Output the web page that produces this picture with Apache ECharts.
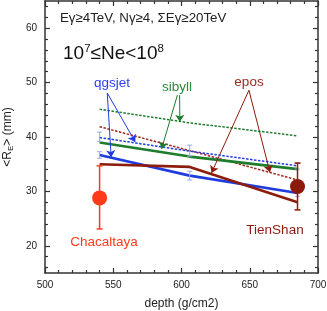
<!DOCTYPE html>
<html><head><meta charset="utf-8">
<script src="https://cdn.jsdelivr.net/npm/echarts@6/dist/echarts.min.js"></script>
<style>html,body{margin:0;padding:0;background:#fff}#c{width:327px;height:311px}</style>
</head><body><div id="c"></div>
<script>
// ---- data ----
const depths = [540, 606, 685];
const qgsjetSolid  = [36.7, 32.9, 29.7];
const qgsjetDotted = [39.9, 37.4, 34.7];
const sibyllSolid  = [39.0, 36.4, 34.1];
const sibyllDotted = [45.1, 42.6, 40.2];
const eposSolid    = [35.0, 34.5, 28.0];
const eposDotted   = [41.9, 37.5, 32.1];
const qgsjetSolidLow   = [36.1, 32.1, 29.1];
const qgsjetSolidHigh  = [37.3, 33.7, 30.3];
const qgsjetDottedLow  = [39.2, 36.5, 34.1];
const qgsjetDottedHigh = [40.9, 38.5, 35.3];
const expNames = ['Chacaltaya', 'TienShan'];
const expDepth = [540, 685];
const expValue = [28.8, 30.9];
const expLow   = [23.1, 26.6];
const expHigh  = [34.7, 35.2];
const yTicks = [20, 30, 40, 50, 60];
const yMinorTicks = [16, 18, 22, 24, 26, 28, 32, 34, 36, 38, 42, 44, 46, 48, 52, 54, 56, 58, 62, 64];
// arrows (annotation, data coordinates)
const qgsjetArrows = [[[545.6, 48.1], [548.5, 36.3]], [[545.6, 48.1], [566.1, 39.1]]];
const sibyllArrows = [[[598.6, 47.7], [598.8, 42.8]], [[597.0, 47.7], [585.4, 37.8]]];
const eposArrows   = [[[649.4, 48.6], [622.0, 33.4]], [[649.4, 48.6], [664.8, 33.5]]];

const FONT = 'Liberation Sans, Arial, Helvetica, sans-serif';
const C_BLUE = '#1f3ddf', C_GREEN = '#1e7d2c', C_EPOS = '#8c1c0c', C_EPOSD = '#a0281a';
const C_CHA = '#ff3a1a', C_TS = '#8b1a0a', C_ERR = '#9aa6f0';

const pairs = (xs, ys) => xs.map((x, i) => [x, ys[i]]);
const errs = (xs, lo, hi) => xs.map((x, i) => [x, lo[i], hi[i]]);

function errRender(capHalf, lw) {
  return function (params, api) {
    const x = api.value(0), lo = api.value(1), hi = api.value(2);
    const p1 = api.coord([x, lo]), p2 = api.coord([x, hi]);
    const color = api.visual('color');
    const st = { stroke: color, lineWidth: lw };
    return { type: 'group', children: [
      { type: 'line', shape: { x1: p1[0], y1: p1[1], x2: p2[0], y2: p2[1] }, style: st },
      { type: 'line', shape: { x1: p1[0] - capHalf, y1: p1[1], x2: p1[0] + capHalf, y2: p1[1] }, style: st },
      { type: 'line', shape: { x1: p2[0] - capHalf, y1: p2[1], x2: p2[0] + capHalf, y2: p2[1] }, style: st }
    ]};
  };
}

const axisLine = { show: true, lineStyle: { color: '#333', width: 1.5 } };
function xAx(pos, labels) {
  return {
    type: 'value', position: pos, min: 500, max: 700, interval: 50,
    axisLine, splitLine: { show: false },
    axisTick: { show: true, inside: true, length: 5, lineStyle: { color: '#333', width: 1.2 } },
    minorTick: { show: true, splitNumber: 5, length: 3, lineStyle: { color: '#333', width: 1.2 } },
    axisLabel: { show: labels, fontSize: 10, color: '#222', fontFamily: FONT, margin: 7 },
    name: labels ? 'depth (g/cm2)' : '', nameLocation: 'middle', nameGap: 25,
    nameTextStyle: { fontSize: 12, color: '#222', fontFamily: FONT }
  };
}
function yAx(pos, major, labels) {
  return {
    type: 'value', position: pos, min: 15, max: 65,
    axisLine: major ? axisLine : { show: false },
    splitLine: { show: false },
    axisTick: { show: true, inside: true, length: major ? 5 : 3, customValues: major ? yTicks : yMinorTicks,
      lineStyle: { color: '#333', width: 1.2 } },
    axisLabel: { show: labels, customValues: yTicks, fontSize: 10, color: '#222', fontFamily: FONT, margin: 8 },
    name: labels ? '{a|<R}{s|E}{a|> (mm)}' : '', nameLocation: 'middle', nameGap: 29,
    nameTextStyle: { fontFamily: FONT, color: '#222',
      rich: { a: { fontSize: 12, fontFamily: FONT, color: '#222' },
              s: { fontSize: 8, fontFamily: FONT, color: '#222', verticalAlign: 'bottom', padding: [6, 0, 0, 0] } } }
  };
}

function lineSeries(ys, color, dotted) {
  return {
    type: 'line', data: pairs(depths, ys), showSymbol: false, symbol: 'none', silent: true,
    lineStyle: dotted ? { color, width: 1.5, type: [2.5, 1.5] } : { color, width: 2.6 },
    z: dotted ? 2 : 3
  };
}
function arrowSeries(arrows, color) {
  return {
    type: 'lines', coordinateSystem: 'cartesian2d', xAxisIndex: 0, yAxisIndex: 0,
    symbol: ['none', 'arrow'], symbolSize: 7, silent: true,
    lineStyle: { color, width: 1, opacity: 1, curveness: 0 },
    data: arrows.map(c => ({ coords: c })), z: 5
  };
}

const chart = echarts.init(document.getElementById('c'), null, { renderer: 'canvas' });
chart.setOption({
  animation: false,
  backgroundColor: '#fff',
  grid: { left: 45, right: 9, top: 1, bottom: 38, containLabel: false, outerBoundsMode: 'none' },
  xAxis: [xAx('bottom', true), xAx('top', false)],
  yAxis: [yAx('left', true, true), yAx('left', false, false), yAx('right', true, false), yAx('right', false, false)],
  series: [
    lineSeries(sibyllDotted, C_GREEN, true),
    lineSeries(eposDotted, C_EPOSD, true),
    lineSeries(qgsjetDotted, C_BLUE, true),
    lineSeries(sibyllSolid, C_GREEN, false),
    lineSeries(qgsjetSolid, C_BLUE, false),
    lineSeries(eposSolid, C_EPOS, false),
    { type: 'custom', renderItem: errRender(2.5, 1), itemStyle: { color: C_ERR }, silent: true, z: 4,
      data: errs(depths, qgsjetDottedLow, qgsjetDottedHigh).concat(errs(depths, qgsjetSolidLow, qgsjetSolidHigh)) },
    arrowSeries(qgsjetArrows, C_BLUE),
    arrowSeries(sibyllArrows, C_GREEN),
    arrowSeries(eposArrows, C_EPOS),
    { type: 'custom', renderItem: errRender(3, 1.5), silent: true, z: 6,
      data: expDepth.map((x, i) => ({ value: [x, expLow[i], expHigh[i]], itemStyle: { color: i === 0 ? C_CHA : C_TS } })) },
    { type: 'scatter', symbol: 'circle', symbolSize: 15, silent: true, z: 7,
      data: expDepth.map((x, i) => ({ name: expNames[i], value: [x, expValue[i]], itemStyle: { color: i === 0 ? C_CHA : C_TS, opacity: 1 } })) }
  ],
  graphic: [
    { type: 'text', style: { x: 60, y: 18, text: 'Eγ≥4TeV, Nγ≥4, ΣEγ≥20TeV', fill: '#222', fontSize: 13.3, fontFamily: FONT, align: 'left', verticalAlign: 'middle' } },
    { type: 'text', style: { x: 63, y: 54, text: '{b|10}{p|7}{b|≤Ne<10}{p|8}', fill: '#111', align: 'left', verticalAlign: 'middle',
      rich: { b: { fontSize: 19, fontFamily: FONT, lineHeight: 23, fill: '#111' },
              p: { fontSize: 11.5, fontFamily: FONT, lineHeight: 12, verticalAlign: 'top', fill: '#111' } } } },
    { type: 'text', style: { x: 112, y: 83, text: 'qgsjet', fill: '#2a3ff0', fontSize: 13.5, fontFamily: FONT, align: 'center', verticalAlign: 'middle' } },
    { type: 'text', style: { x: 177, y: 87, text: 'sibyll', fill: '#2a8a3a', fontSize: 13.5, fontFamily: FONT, align: 'center', verticalAlign: 'middle' } },
    { type: 'text', style: { x: 249, y: 82, text: 'epos', fill: '#9a2a1a', fontSize: 13.5, fontFamily: FONT, align: 'center', verticalAlign: 'middle' } },
    { type: 'text', style: { x: 104, y: 242, text: 'Chacaltaya', fill: C_CHA, fontSize: 13.5, fontFamily: FONT, align: 'center', verticalAlign: 'middle' } },
    { type: 'text', style: { x: 275, y: 230, text: 'TienShan', fill: C_TS, fontSize: 13.5, fontFamily: FONT, align: 'center', verticalAlign: 'middle' } }
  ]
});
</script></body></html>
